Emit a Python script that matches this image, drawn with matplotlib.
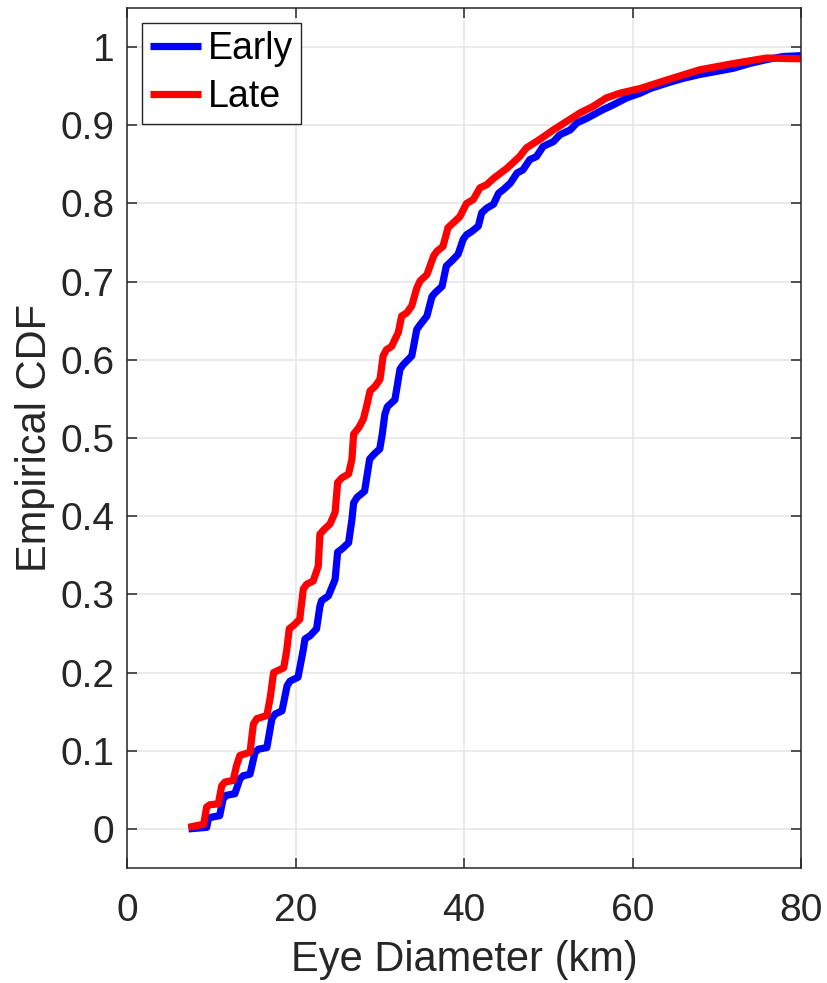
import matplotlib
matplotlib.use("Agg")
import matplotlib.pyplot as plt

plt.rcParams['font.family'] = ['Liberation Sans', 'DejaVu Sans']

# vertices (eye diameter in km, empirical CDF)
early_x = [7.3, 9.46, 9.65, 10.05, 11.0, 11.4, 11.8, 12.8, 13.4, 13.8, 14.6, 15.2, 15.6, 16.6,
           17.2, 17.6, 18.4, 19.0, 19.35, 20.3, 20.9, 21.13, 21.72, 22.5, 22.9, 23.1, 23.9,
           24.7, 25.0, 25.5, 26.3, 26.7, 26.9, 27.3, 28.2, 28.8, 29.3, 30.0, 30.3, 30.6, 30.9,
           31.8, 32.4, 32.8, 33.8, 34.4, 34.8, 35.6, 36.2, 36.6, 37.4, 37.9, 38.5, 39.3, 39.9,
           40.3, 40.9, 41.7, 42.1, 42.7, 43.5, 44.1, 44.7, 45.5, 46.3, 47.0, 47.8, 48.6, 49.4,
           50.6, 51.4, 52.6, 53.4, 54.6, 55.8, 56.5, 57.7, 59.3, 60.9, 62.1, 64.1, 66.0, 68.0,
           70.0, 72.0, 73.9, 75.9, 77.9, 80.0]
early_cdf = [0.0, 0.002, 0.013, 0.015, 0.017, 0.038, 0.043, 0.045, 0.064, 0.068, 0.070, 0.098,
             0.102, 0.104, 0.141, 0.147, 0.151, 0.183, 0.189, 0.194, 0.228, 0.243, 0.247, 0.256,
             0.285, 0.292, 0.298, 0.319, 0.354, 0.358, 0.366, 0.396, 0.417, 0.424, 0.432, 0.473,
             0.479, 0.486, 0.505, 0.530, 0.540, 0.549, 0.588, 0.594, 0.605, 0.639, 0.645, 0.656,
             0.681, 0.686, 0.694, 0.720, 0.726, 0.735, 0.754, 0.760, 0.764, 0.771, 0.788, 0.794,
             0.799, 0.813, 0.818, 0.826, 0.839, 0.843, 0.856, 0.860, 0.873, 0.879, 0.888, 0.894,
             0.903, 0.909, 0.916, 0.920, 0.926, 0.935, 0.941, 0.947, 0.954, 0.960, 0.965, 0.969,
             0.973, 0.979, 0.984, 0.988, 0.989]

late_x = [7.3, 9.1, 9.46, 9.85, 10.84, 11.24, 11.63, 12.6, 13.0, 13.4, 14.0, 14.6, 15.0, 15.4,
          16.6, 17.0, 17.4, 17.8, 18.6, 18.95, 19.26, 19.74, 20.5, 20.93, 21.33, 22.1, 22.7,
          22.9, 23.4, 24.1, 24.7, 25.0, 25.5, 26.3, 26.7, 26.9, 27.5, 28.05, 28.45, 28.84, 29.44,
          30.03, 30.4, 30.8, 31.4, 32.2, 32.6, 33.2, 33.8, 34.4, 34.8, 35.6, 36.4, 36.8, 37.5,
          38.1, 38.5, 39.5, 40.3, 41.1, 41.9, 42.7, 43.5, 45.1, 46.6, 47.4, 49.0, 50.6, 52.2,
          53.8, 55.3, 56.9, 58.5, 60.1, 60.9, 64.1, 68.0, 72.0, 75.9, 80.0]
late_cdf = [0.002, 0.006, 0.028, 0.031, 0.032, 0.055, 0.060, 0.062, 0.081, 0.094, 0.096, 0.098,
            0.134, 0.141, 0.145, 0.168, 0.200, 0.202, 0.206, 0.228, 0.256, 0.260, 0.268, 0.307,
            0.313, 0.317, 0.336, 0.377, 0.383, 0.390, 0.405, 0.443, 0.449, 0.454, 0.473, 0.505,
            0.513, 0.524, 0.541, 0.560, 0.566, 0.575, 0.605, 0.613, 0.617, 0.635, 0.656, 0.660,
            0.669, 0.692, 0.701, 0.709, 0.733, 0.739, 0.745, 0.769, 0.773, 0.783, 0.800, 0.805,
            0.820, 0.824, 0.832, 0.845, 0.860, 0.871, 0.882, 0.894, 0.905, 0.916, 0.924, 0.935,
            0.941, 0.945, 0.947, 0.958, 0.971, 0.979, 0.986, 0.985]

x_ticks = [0, 20, 40, 60, 80]
y_ticks = [0, 0.1, 0.2, 0.3, 0.4, 0.5, 0.6, 0.7, 0.8, 0.9, 1]
y_labels = ["0", "0.1", "0.2", "0.3", "0.4", "0.5", "0.6", "0.7", "0.8", "0.9", "1"]

fig = plt.figure(figsize=(8.27, 9.83), dpi=100)
ax = fig.add_axes([127/827, 1 - 868/983, 674/827, 860/983])

ax.plot(early_x, early_cdf, color=(0, 0, 1), lw=5.2, solid_joinstyle='round', solid_capstyle='butt', label='Early')
ax.plot(late_x, late_cdf, color=(1, 0, 0), lw=5.2, solid_joinstyle='round', solid_capstyle='butt', label='Late')

ax.set_xlim(0, 80)
ax.set_ylim(-0.05, 1.05)
ax.set_xticks(x_ticks)
ax.set_yticks(y_ticks)
ax.set_yticklabels(y_labels)

ax.grid(True, color='#e6e6e6', lw=1.2)
ax.set_axisbelow(True)
for s in ax.spines.values():
    s.set_color('#262626')
    s.set_linewidth(1.1)
ax.tick_params(axis='both', direction='in', length=7, width=1.1, color='#262626',
               labelsize=28, labelcolor='#262626', top=True, right=True)
ax.tick_params(axis='x', pad=18)
ax.tick_params(axis='y', pad=9)

ax.set_xlabel('Eye Diameter (km)', fontsize=30, color='#262626', labelpad=8)
ax.set_ylabel('Empirical CDF', fontsize=30, color='#262626', labelpad=4)

leg = ax.legend(loc='upper left', bbox_to_anchor=(15/674, 1 - 15/860), borderaxespad=0,
                fontsize=27, handlelength=1.35, handletextpad=0.18, labelspacing=0.32,
                borderpad=0.22, fancybox=False, framealpha=1, edgecolor='#262626')
leg.get_frame().set_linewidth(1.0)

fig.savefig('out.png', dpi=100)
